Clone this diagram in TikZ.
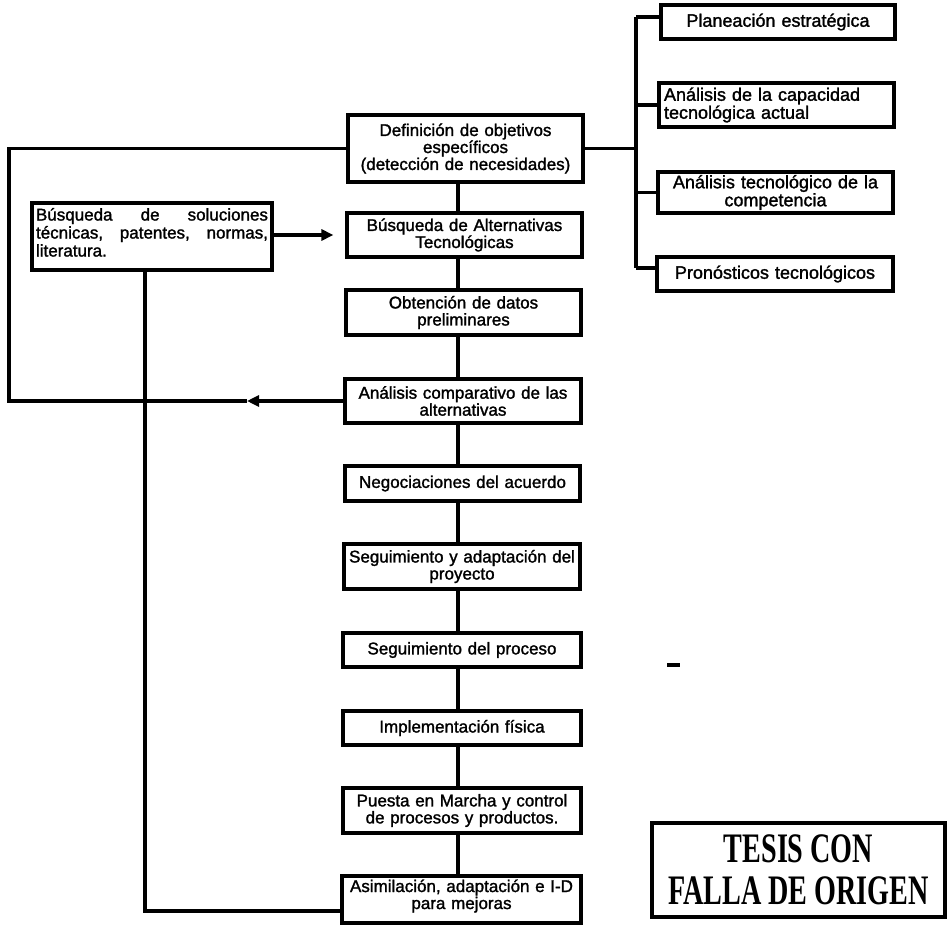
\documentclass[tikz,border=0pt]{standalone}
\usepackage{fontspec}
\setmainfont{Liberation Sans}
\newfontfamily\bxfont{Liberation Sans}[FakeBold=1.5]
\newfontfamily\stampfont{Liberation Serif}
\usetikzlibrary{arrows.meta}
\begin{document}
\begin{tikzpicture}[x=1pt,y=-1pt,
  bx/.style={draw, line width=3.2pt, inner sep=0pt, align=center, font=\bxfont\fontsize{17}{17}\selectfont},
  rbx/.style={bx, font=\bxfont\fontsize{18}{18}\selectfont},
  ln/.style={draw, line width=3.2pt},
  arr/.style={ln, -{Triangle[length=12pt,width=11pt]}}]
\useasboundingbox (0,0) rectangle (950,933);
\fill[white] (0,0) rectangle (950,933);

% central column
\node[bx, text width=235pt, minimum height=67pt] (def) at (465.5,148.5) {Definición de objetivos\\específicos\\(detección de necesidades)};
\node[bx, text width=235pt, minimum height=44pt] (alt) at (464.5,235) {Búsqueda de Alternativas\\Tecnológicas};
\node[bx, text width=235pt, minimum height=45pt] (obt) at (463.5,312.5) {Obtención de datos\\preliminares};
\node[bx, text width=236pt, minimum height=44pt] (ana) at (463,401) {Análisis comparativo de las\\alternativas};
\node[bx, text width=235pt, minimum height=35pt] (neg) at (462.5,483.5) {Negociaciones del acuerdo};
\node[bx, text width=236pt, minimum height=45pt] (sega) at (462,566.5) {Seguimiento y adaptación del\\proyecto};
\node[bx, text width=238pt, minimum height=34pt] (segp) at (462,650) {Seguimiento del proceso};
\node[bx, text width=238pt, minimum height=34pt] (imp) at (462,728) {Implementación física};
\node[bx, text width=238pt, minimum height=45pt] (pue) at (462,810.5) {Puesta en Marcha y control\\de procesos y productos.};
\node[bx, text width=239pt, minimum height=47pt] (asi) at (461.5,899.5) {\parbox[c][40pt][t]{239pt}{\centering Asimilación, adaptación e I-D\\para mejoras}};

% left box
\node[bx, text width=240pt, minimum height=67pt] (lbox) at (152,236.5)
  {\parbox[c][57pt][t]{232pt}{\baselineskip=18pt
   \makebox[232pt]{Búsqueda\hfill de\hfill soluciones}\\
   \makebox[232pt]{técnicas,\hfill patentes,\hfill normas,}\\
   \makebox[232pt][l]{literatura.}}};

% right boxes
\node[rbx, text width=234pt, minimum height=34pt] (pla) at (778,22) {Planeación estratégica};
\node[rbx, align=left, inner xsep=5pt, text width=225pt, minimum height=44pt] (cap) at (776.5,105) {Análisis de la capacidad\\tecnológica actual};
\node[rbx, text width=235pt, minimum height=41pt] (com) at (775.5,192.5) {Análisis tecnológico de la\\competencia};
\node[rbx, text width=236pt, minimum height=34pt] (pro) at (775,274) {Pronósticos tecnológicos};

% stamp
\node[draw, line width=3.2pt, minimum width=293pt, minimum height=94pt, inner sep=0pt, align=center,
      font=\stampfont\bfseries\fontsize{42}{42}\selectfont] (stamp) at (798.5,870)
  {\scalebox{0.67}[1]{TESIS CON}\\\scalebox{0.67}[1]{FALLA DE ORIGEN}};

% coordinates
\coordinate (spine) at (458,0);
\coordinate (bt) at (636,17);
\coordinate (bb) at (636,268);
\coordinate (lc) at (9,401);
\coordinate (tip) at (247,401);
\coordinate (bl) at (145,911);
\coordinate (da) at (667,665);
\coordinate (db) at (680,665);

% spine connectors
\draw[ln] (def.south -| spine) -- (alt.north -| spine);
\draw[ln] (alt.south -| spine) -- (obt.north -| spine);
\draw[ln] (obt.south -| spine) -- (ana.north -| spine);
\draw[ln] (ana.south -| spine) -- (neg.north -| spine);
\draw[ln] (neg.south -| spine) -- (sega.north -| spine);
\draw[ln] (sega.south -| spine) -- (segp.north -| spine);
\draw[ln] (segp.south -| spine) -- (imp.north -| spine);
\draw[ln] (imp.south -| spine) -- (pue.north -| spine);
\draw[ln] (pue.south -| spine) -- (asi.north -| spine);

% right bus
\draw[ln] (def.east) -- (def.east -| bt);
\draw[ln] (bt) -- (bb);
\draw[ln] (bt) -- (bt -| pla.west);
\draw[ln] (cap.west -| bt) -- (cap.west);
\draw[ln] (com.west -| bt) -- (com.west);
\draw[ln] (bb) -- (bb -| pro.west);

% feedback loop
\draw[arr] (ana.west) -- (tip);
\draw[ln] (tip) -- (lc) |- (def.west);

% left box connections
\draw[arr, shorten >=12pt] (lbox.east |- alt.west) -- (alt.west);
\draw[ln] (lbox.south -| bl) -- (bl) -- (bl -| asi.west);

% scan mark
\draw[line width=4pt] (da) -- (db);
\end{tikzpicture}
\end{document}
